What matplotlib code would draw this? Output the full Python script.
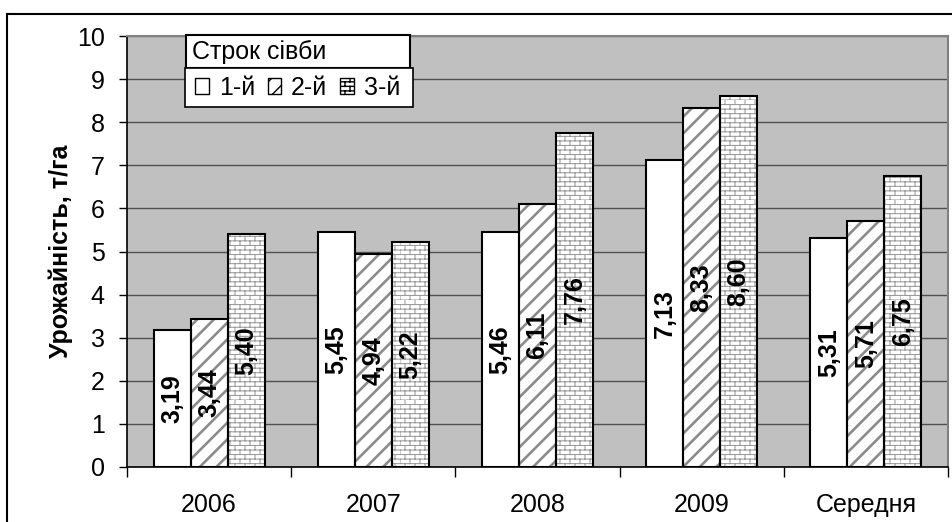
import warnings
import numpy as np
import matplotlib
matplotlib.use("Agg")
import matplotlib.pyplot as plt
import matplotlib.hatch as mhatch
from matplotlib.path import Path
from matplotlib.patches import Rectangle, Patch

warnings.filterwarnings("ignore")

categories = ["2006", "2007", "2008", "2009", "Середня"]
series_names = ["1-й", "2-й", "3-й"]
sowing_1 = [3.19, 5.45, 5.46, 7.13, 5.31]
sowing_2 = [3.44, 4.94, 6.11, 8.33, 5.71]
sowing_3 = [5.40, 5.22, 7.76, 8.60, 6.75]
labels_1 = ["3,19", "5,45", "5,46", "7,13", "5,31"]
labels_2 = ["3,44", "4,94", "6,11", "8,33", "5,71"]
labels_3 = ["5,40", "5,22", "7,76", "8,60", "6,75"]


# brick texture for the 3rd series, registered as hatch letter 'b'
class BrickHatch(mhatch.HatchPatternBase):
    def __init__(self, hatch, density):
        n = hatch.count("b")
        self.rows = 22 * n
        self.cols = 10 * n
        self.num_vertices = 2 * self.rows + 2 * self.rows * self.cols

    def set_vertices_and_codes(self, vertices, codes):
        k = 0
        for i in range(self.rows):
            y0 = i / self.rows
            y1 = (i + 1) / self.rows
            vertices[k] = (0.0, y0)
            vertices[k + 1] = (1.0, y0)
            codes[k] = Path.MOVETO
            codes[k + 1] = Path.LINETO
            k += 2
            shift = 0.5 * (i % 2)
            for j in range(self.cols):
                xx = (j + shift) / self.cols
                vertices[k] = (xx, y0)
                vertices[k + 1] = (xx, y1)
                codes[k] = Path.MOVETO
                codes[k + 1] = Path.LINETO
                k += 2


mhatch._hatch_types.append(BrickHatch)

plt.rcParams["font.family"] = ["Liberation Sans", "DejaVu Sans"]
FS = 18

fig = plt.figure(figsize=(9.52, 5.22), dpi=100)
W, H = 952, 522
ax = fig.add_axes([127 / W, 1 - 467 / H, (948 - 127) / W, (467 - 36) / H])
ax.set_facecolor("#c0c0c0")

x = np.arange(len(categories))
bw = 0.225
styles = [
    dict(color="white", hatch=None, hcolor="white", hlw=1.0),
    dict(color="white", hatch="//", hcolor="#8c8c8c", hlw=1.9),
    dict(color="white", hatch="b", hcolor="#9a9a9a", hlw=0.75),
]
all_vals = [sowing_1, sowing_2, sowing_3]
all_labels = [labels_1, labels_2, labels_3]

for k, (vals, labs, st) in enumerate(zip(all_vals, all_labels, styles)):
    pos = x + (k - 1) * bw
    with plt.rc_context({"hatch.linewidth": st["hlw"], "hatch.color": st["hcolor"]}):
        bars = ax.bar(pos, vals, bw, color=st["color"], hatch=st["hatch"],
                      edgecolor=st["hcolor"], linewidth=0, zorder=2)
        for b in bars:
            if hasattr(b, "set_hatch_linewidth"):
                b.set_hatch_linewidth(st["hlw"])
    ax.bar(pos, vals, bw, fill=False, edgecolor="black", linewidth=1.5, zorder=3)
    for p, v, t in zip(pos, vals, labs):
        ax.text(p, v / 2, t, rotation=90, ha="center", va="center",
                fontsize=FS, fontweight="bold", zorder=4)

ax.set_ylim(0, 10)
ax.set_xlim(-0.5, len(categories) - 0.5)
ax.set_yticks(range(0, 11))
ax.yaxis.grid(True, color="#505050", linewidth=1.0, zorder=1)
ax.set_axisbelow(True)

ax.set_xticks(np.arange(-0.5, len(categories)), [""] * (len(categories) + 1))
ax.set_xticks(x, categories, minor=True)
ax.tick_params(axis="x", which="major", length=7, width=1, direction="out")
ax.tick_params(axis="x", which="minor", length=0, pad=19, labelsize=FS)
ax.tick_params(axis="y", length=6, width=1, pad=10, labelsize=FS)

for side in ["top", "right"]:
    ax.spines[side].set_color("#808080")
    ax.spines[side].set_linewidth(1.5)
for side in ["left", "bottom"]:
    ax.spines[side].set_color("black")
    ax.spines[side].set_linewidth(1.2)

ax.set_ylabel("Урожайність, т/га", fontsize=FS, fontweight="bold", labelpad=3)

# outer chart border (runs off the right and bottom edges)
fig.patches.append(Rectangle((7 / W, -0.1), 1.2, 1.1 - 14 / H,
                             transform=fig.transFigure, fill=False,
                             edgecolor="black", linewidth=1.5, zorder=0))

# legend: title box and items box
fig.patches.append(Rectangle((186 / W, 1 - 68 / H), (410 - 186) / W, (68 - 35) / H,
                             transform=fig.transFigure, facecolor="white",
                             edgecolor="black", linewidth=1.5, zorder=6))
fig.text(192 / W, 1 - 52 / H, "Строк сівби", fontsize=FS, va="center", ha="left", zorder=7)
fig.patches.append(Rectangle((185 / W, 1 - 107 / H), (413 - 185) / W, (107 - 68) / H,
                             transform=fig.transFigure, facecolor="white",
                             edgecolor="black", linewidth=1.2, zorder=6))
handles = [Patch(facecolor="white", edgecolor="black", hatch=st["hatch"], linewidth=1)
           for st in styles]
leg = fig.legend(handles, series_names, loc="center left",
                 bbox_to_anchor=(195 / W, 1 - 88 / H), ncol=3, frameon=False,
                 fontsize=FS, handlelength=0.55, handleheight=0.6,
                 handletextpad=0.4, columnspacing=0.5, borderpad=0, borderaxespad=0)
leg.set_zorder(8)

fig.savefig("out.png", dpi=100)
